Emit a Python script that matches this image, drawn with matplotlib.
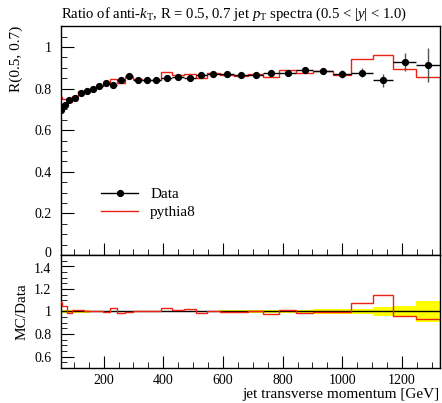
import numpy as np
import matplotlib
matplotlib.use('Agg')
from matplotlib import pyplot as plt
from matplotlib import transforms
from matplotlib.ticker import MultipleLocator, FormatStrFormatter
from matplotlib.lines import Line2D

plt.rcParams['font.family'] = ['Liberation Serif', 'DejaVu Serif']
plt.rcParams['mathtext.fontset'] = 'custom'
plt.rcParams['mathtext.rm'] = 'Liberation Serif'
plt.rcParams['mathtext.it'] = 'Liberation Serif:italic'

# bin edges in GeV
edges = [52, 62, 76, 94.5, 113.5, 133, 153, 175, 197, 220, 244.5, 270.5, 299, 329,
         359.5, 393, 429.5, 468.5, 508, 546, 590, 638, 685, 735, 789, 845, 903,
         968, 1029, 1102, 1171, 1247, 1327]

# data ratio R(0.5, 0.7) and its uncertainty
data = [0.696, 0.720, 0.744, 0.755, 0.779, 0.787, 0.797, 0.813, 0.829, 0.819, 0.840,
        0.859, 0.843, 0.839, 0.843, 0.853, 0.856, 0.853, 0.864, 0.869, 0.872, 0.867,
        0.867, 0.874, 0.877, 0.891, 0.885, 0.869, 0.877, 0.840, 0.928, 0.912]
data_err = [0.012, 0.010, 0.008, 0.007, 0.007, 0.007, 0.006, 0.006, 0.006, 0.006, 0.006,
            0.006, 0.006, 0.006, 0.006, 0.006, 0.006, 0.007, 0.007, 0.007, 0.008, 0.008,
            0.009, 0.010, 0.011, 0.012, 0.016, 0.019, 0.022, 0.031, 0.044, 0.082]

# pythia8 prediction
mc = [0.757, 0.752, 0.737, 0.763, 0.787, 0.787, 0.797, 0.813, 0.824, 0.844, 0.827,
      0.854, 0.848, 0.839, 0.843, 0.879, 0.866, 0.870, 0.851, 0.874, 0.867, 0.862,
      0.869, 0.856, 0.890, 0.876, 0.884, 0.865, 0.941, 0.960, 0.895, 0.854]

edges = np.array(edges)
centers = 0.5 * (edges[1:] + edges[:-1])
half = 0.5 * (edges[1:] - edges[:-1])
data = np.array(data)
data_err = np.array(data_err)
mc = np.array(mc)

fig = plt.figure(figsize=(4.42, 4.03), dpi=100)
ax = fig.add_axes([0.138, 0.3672, 0.857, 0.568])
rax = fig.add_axes([0.138, 0.0868, 0.857, 0.2805], sharex=ax)

# main panel
ax.stairs(mc, edges, color='#ee2211', lw=1.0, zorder=2)
ax.errorbar(centers, data, xerr=half, fmt='none', ecolor='black', elinewidth=1.0, zorder=3)
ax.errorbar(centers, data, yerr=data_err, fmt='o', color='black', ecolor='#555555',
            elinewidth=1.0, ms=4.2, capsize=0, zorder=4)
ax.set_xlim(57, 1327)
ax.set_ylim(0, 1.1)
ax.set_ylabel('R(0.5, 0.7)', fontsize=11, loc='top', labelpad=8)
ax.yaxis.set_major_locator(MultipleLocator(0.2))
ax.yaxis.set_minor_locator(MultipleLocator(0.05))
ax.yaxis.set_major_formatter(FormatStrFormatter('%g'))
ax.xaxis.set_major_locator(MultipleLocator(200))
ax.xaxis.set_minor_locator(MultipleLocator(50))
ax.tick_params(labelbottom=False)
ax.set_title(r'Ratio of anti-$k_\mathrm{T}$, R = 0.5, 0.7 jet $p_\mathrm{T}$ spectra (0.5 < |$y$| < 1.0)',
             fontsize=10.6, loc='left', pad=6)
h_data = Line2D([], [], color='black', marker='o', ms=4.2, lw=1.0)
h_mc = Line2D([], [], color='#ee2211', lw=1.0)
ax.legend([h_data, h_mc], ['Data', 'pythia8'], loc='lower left', bbox_to_anchor=(0.09, 0.13),
          frameon=False, fontsize=11, handlelength=2.4, handletextpad=0.8,
          labelspacing=0.3, borderaxespad=0)

# ratio panel
ratio = mc / data
rel = data_err / data
rax.fill_between(edges, np.append(1 - rel, 1 - rel[-1]), np.append(1 + rel, 1 + rel[-1]),
                 step='post', color='yellow', lw=0, zorder=1)
rax.axhline(1.0, color='black', lw=1.0, zorder=2)
rax.stairs(ratio, edges, color='#ee2211', lw=1.0, zorder=3)
rax.set_ylim(0.5, 1.5)
rax.set_ylabel('MC/Data', fontsize=11)
rax.yaxis.set_major_locator(MultipleLocator(0.2))
rax.yaxis.set_minor_locator(MultipleLocator(0.05))
rax.yaxis.set_major_formatter(FormatStrFormatter('%g'))
rax.set_xlabel('jet transverse momentum [GeV]', fontsize=11, loc='right', labelpad=1)

for a in (ax, rax):
    a.tick_params(which='both', direction='in', top=False, right=False, labelsize=10)
    a.tick_params(which='major', length=9)
    a.tick_params(which='minor', length=4)
    a.tick_params(axis='y', which='major', pad=7)
    a.tick_params(axis='x', which='major', pad=4)
    for s in a.spines.values():
        s.set_linewidth(1.0)

fig.align_ylabels([ax, rax])

# nudge the "0" of the upper panel and the "1.4" of the lower one apart
fig.canvas.draw()
for t in ax.yaxis.get_major_ticks():
    if abs(t.get_loc()) < 1e-9:
        t.label1.set_transform(t.label1.get_transform() +
                               transforms.ScaledTranslation(0, 2 / 72, fig.dpi_scale_trans))
for t in rax.yaxis.get_major_ticks():
    if abs(t.get_loc() - 1.4) < 1e-9:
        t.label1.set_transform(t.label1.get_transform() +
                               transforms.ScaledTranslation(0, -1.5 / 72, fig.dpi_scale_trans))

fig.savefig('out.png', dpi=100)
